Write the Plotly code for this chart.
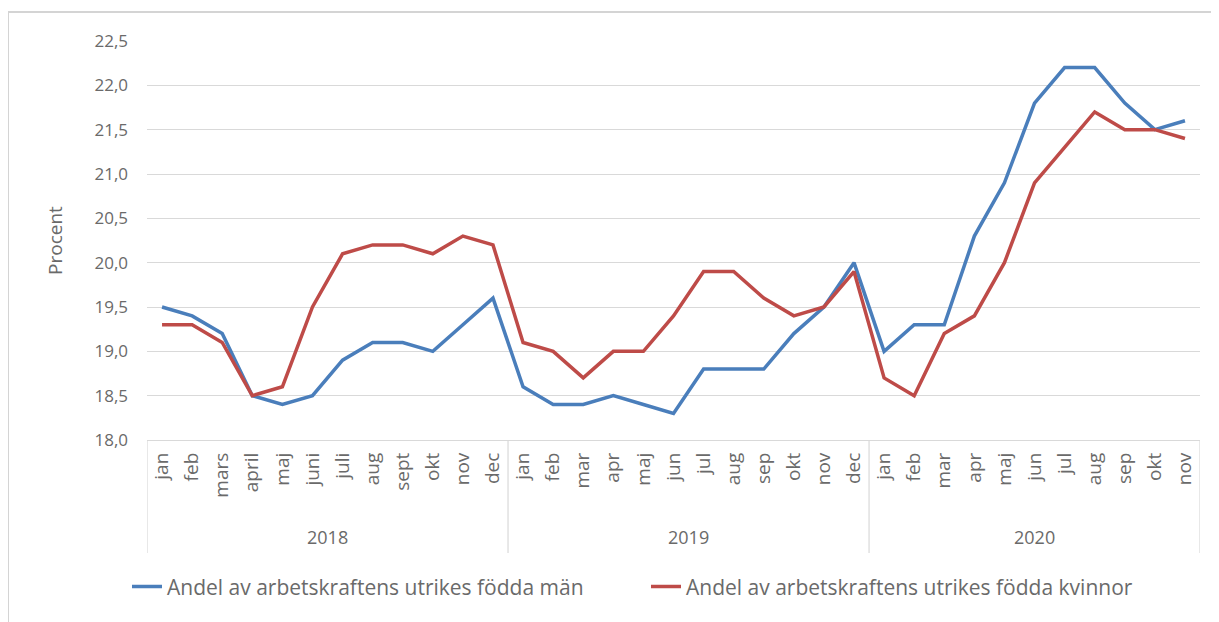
import plotly.graph_objects as go

# ---- data ----
years = ["2018", "2019", "2020"]
months_2018 = ["jan", "feb", "mars", "april", "maj", "juni", "juli", "aug", "sept", "okt", "nov", "dec"]
months_2019 = ["jan", "feb", "mar", "apr", "maj", "jun", "jul", "aug", "sep", "okt", "nov", "dec"]
months_2020 = ["jan", "feb", "mar", "apr", "maj", "jun", "jul", "aug", "sep", "okt", "nov"]

men = [19.5, 19.4, 19.2, 18.5, 18.4, 18.5, 18.9, 19.1, 19.1, 19.0, 19.3, 19.6,
       18.6, 18.4, 18.4, 18.5, 18.4, 18.3, 18.8, 18.8, 18.8, 19.2, 19.5, 20.0,
       19.0, 19.3, 19.3, 20.3, 20.9, 21.8, 22.2, 22.2, 21.8, 21.5, 21.6]
women = [19.3, 19.3, 19.1, 18.5, 18.6, 19.5, 20.1, 20.2, 20.2, 20.1, 20.3, 20.2,
         19.1, 19.0, 18.7, 19.0, 19.0, 19.4, 19.9, 19.9, 19.6, 19.4, 19.5, 19.9,
         18.7, 18.5, 19.2, 19.4, 20.0, 20.9, 21.3, 21.7, 21.5, 21.5, 21.4]

name_men = "Andel av arbetskraftens utrikes födda män"
name_women = "Andel av arbetskraftens utrikes födda kvinnor"

y_ticks = [18.0, 18.5, 19.0, 19.5, 20.0, 20.5, 21.0, 21.5, 22.0, 22.5]

# ---- derived ----
groups = [months_2018, months_2019, months_2020]
month_labels = [m for g in groups for m in g]
idx = list(range(len(month_labels)))

FONT = "Open Sans, Noto Sans, sans-serif"
GREY = "#6a6a6a"
GRID = "#d9d9d9"

fig = go.Figure()
fig.add_trace(go.Scatter(x=idx, y=men, mode="lines", name=name_men,
                         line=dict(color="#4A7EBB", width=3.5)))
fig.add_trace(go.Scatter(x=idx, y=women, mode="lines", name=name_women,
                         line=dict(color="#BE4B48", width=3.5)))

shapes = []
annotations = []
start = 0
bounds = [-0.5]
for yr, g in zip(years, groups):
    end = start + len(g) - 1
    annotations.append(dict(x=(start + end) / 2, y=-0.243, xref="x", yref="paper",
                            text=yr, showarrow=False, yanchor="middle",
                            font=dict(family=FONT, size=18, color=GREY)))
    bounds.append(end + 0.5)
    start = end + 1
for b in bounds:
    shapes.append(dict(type="line", xref="x", yref="paper", x0=b, x1=b, y0=0, y1=-0.283,
                       line=dict(color=GRID, width=1.2)))

# outer frame
shapes.append(dict(type="rect", xref="paper", yref="paper", x0=-0.132, x1=1.2,
                   y0=-0.8, y1=1.0727, line=dict(color="#d4d4d4", width=2),
                   layer="below"))

fig.update_layout(
    width=1219, height=622,
    margin=dict(l=139, r=27, t=33, b=190),
    paper_bgcolor="white", plot_bgcolor="white",
    font=dict(family=FONT, color=GREY),
    showlegend=True,
    legend=dict(orientation="h", x=-0.019, xanchor="left", y=-0.368, yanchor="middle",
                font=dict(family=FONT, size=21, color=GREY),
                entrywidth=474, entrywidthmode="pixels",
                bgcolor="rgba(0,0,0,0)"),
    shapes=shapes,
    annotations=annotations,
    xaxis=dict(range=[-0.5, len(month_labels) - 0.5], tickmode="array",
               tickvals=idx, ticktext=month_labels, tickangle=-90,
               showgrid=False, zeroline=False, showline=True, linecolor=GRID,
               linewidth=1.2, ticks="", tickfont=dict(family=FONT, size=19, color=GREY),
               ticklabelstandoff=4, fixedrange=True),
    yaxis=dict(range=[18.0, 22.5], tickmode="array", tickvals=y_ticks,
               ticktext=[f"{v:.1f}".replace(".", ",") for v in y_ticks],
               showgrid=True, gridcolor=GRID, gridwidth=1.2, zeroline=False,
               showline=False, ticks="", ticklabelstandoff=18,
               tickfont=dict(family=FONT, size=17, color=GREY),
               title=dict(text="Procent", standoff=26,
                          font=dict(family=FONT, size=19, color=GREY)),
               fixedrange=True),
)

fig.write_html("out.html")
